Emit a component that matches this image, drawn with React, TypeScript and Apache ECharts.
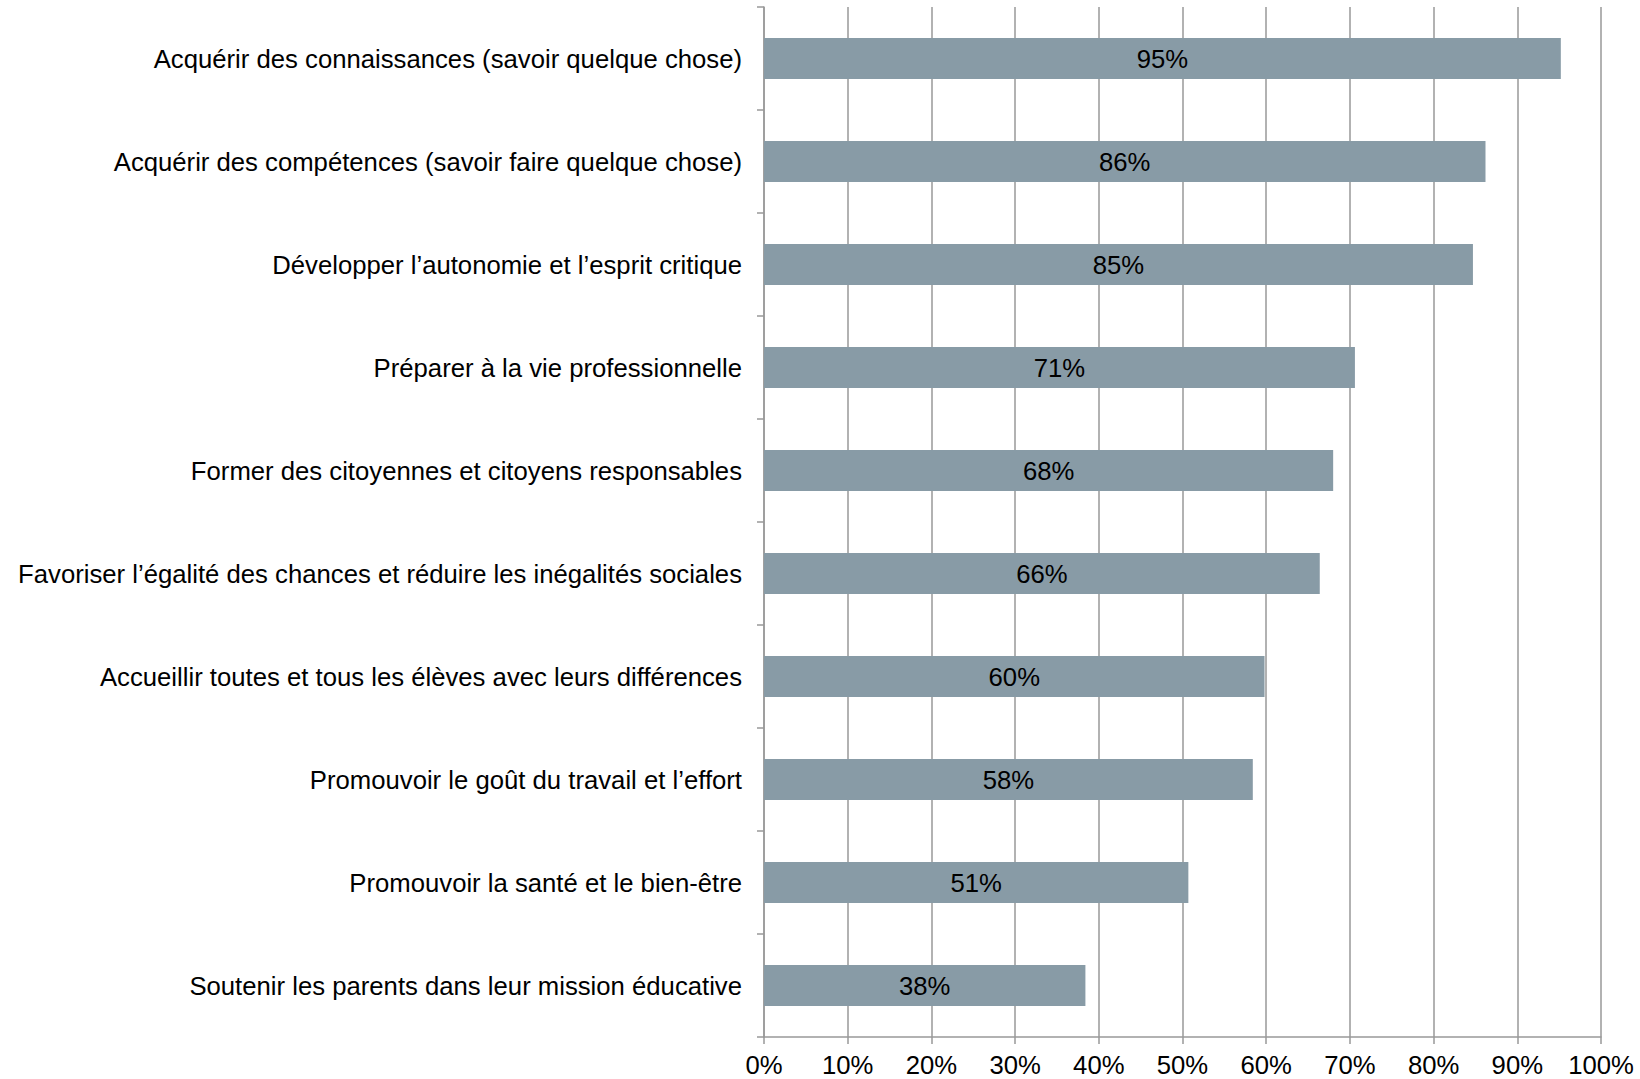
import React, { useEffect, useRef } from "react";
import * as echarts from "echarts";

const categories = [
  "Acquérir des connaissances (savoir quelque chose)",
  "Acquérir des compétences (savoir faire quelque chose)",
  "Développer l’autonomie et l’esprit critique",
  "Préparer à la vie professionnelle",
  "Former des citoyennes et citoyens responsables",
  "Favoriser l’égalité des chances et réduire les inégalités sociales",
  "Accueillir toutes et tous les élèves avec leurs différences",
  "Promouvoir le goût du travail et l’effort",
  "Promouvoir la santé et le bien-être",
  "Soutenir les parents dans leur mission éducative",
];

const values = [95.2, 86.2, 84.7, 70.6, 68.0, 66.4, 59.8, 58.4, 50.7, 38.4];

const FONT = "'Liberation Sans', Arial, sans-serif";
const FS = 25.7;

export default function App() {
  const ref = useRef<HTMLDivElement>(null);
  useEffect(() => {
    if (!ref.current) return;
    const chart = echarts.init(ref.current, undefined, { renderer: "svg" });
    chart.setOption({
      animation: false,
      backgroundColor: "#ffffff",
      textStyle: { fontFamily: FONT },
      grid: { left: 764, right: 39, top: 7, bottom: 42, containLabel: false },
      xAxis: {
        type: "value",
        min: 0,
        max: 100,
        interval: 10,
        axisLabel: {
          formatter: "{value}%",
          fontSize: FS,
          color: "#000",
          margin: 15,
          fontFamily: FONT,
        },
        axisLine: { show: true, lineStyle: { color: "#999", width: 1.5 } },
        axisTick: { show: true, length: 7, lineStyle: { color: "#999", width: 1.5 } },
        splitLine: { show: true, lineStyle: { color: "#999", width: 1.5 } },
      },
      yAxis: {
        type: "category",
        inverse: true,
        data: categories,
        axisLabel: { fontSize: FS, color: "#000", margin: 22, fontFamily: FONT },
        axisLine: { show: true, lineStyle: { color: "#999", width: 1.5 } },
        axisTick: { show: true, length: 7, lineStyle: { color: "#999", width: 1.5 } },
        splitLine: { show: false },
      },
      series: [
        {
          type: "bar",
          data: values,
          barWidth: "40%",
          itemStyle: { color: "#889BA6" },
          label: {
            show: true,
            position: "inside",
            color: "#000",
            fontSize: FS,
            fontFamily: FONT,
            formatter: (p: any) => Math.round(p.value) + "%",
          },
        },
      ],
    });
    return () => chart.dispose();
  }, []);
  return (
    <div
      ref={ref}
      style={{ position: "absolute", left: 0, top: 0, width: 1640, height: 1079 }}
    />
  );
}
